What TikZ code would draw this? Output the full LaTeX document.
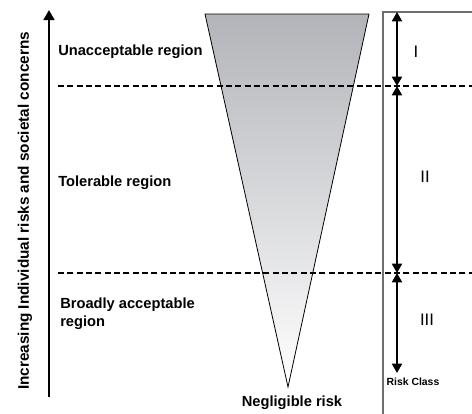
\documentclass[tikz,border=0pt]{standalone}
\usepackage{fontspec}
\setmainfont{Liberation Sans}
\usetikzlibrary{arrows.meta}
\usetikzlibrary{positioning}
\definecolor{conetop}{RGB}{178,180,185}
\definecolor{boxgray}{RGB}{110,110,110}
\tikzstyle{region} = [anchor=west, inner sep=0pt, align=left,
    font=\bfseries\fontsize{11}{13.5}\selectfont]
\tikzstyle{riskclass} = [inner sep=0pt, font=\fontsize{12.5}{14}\selectfont]
\tikzstyle{line} = [draw, line width=1.5pt, {Triangle[width=7.5pt,length=7pt]}-{Triangle[width=7.5pt,length=7pt]}]
\tikzstyle{border} = [dashed, line width=1.2pt, dash pattern=on 4.5pt off 2.5pt]

\begin{document}
\begin{tikzpicture}[x=0.75pt, y=-0.75pt]
    \useasboundingbox (0,0) rectangle (472,414);
    % Cone of risk
    \coordinate (tl) at (205,14);
    \coordinate (tr) at (369,14);
    \coordinate (apex) at (288,387);
    \shade[top color=conetop, bottom color=white] (tl) -- (tr) -- (apex) -- cycle;
    \draw[line width=0.6pt] (tl) -- (tr) -- (apex) -- cycle;
    % Risk class box
    \coordinate (boxtop) at (383,12);
    \draw[boxgray, line width=0.8pt] (383,414) -- (boxtop) -- (472,12);
    % Place nodes
    \node[region] (unacc) at (58,52) {Unacceptable region};
    \node[region] (toler) at (58,183) {Tolerable region};
    \node[region] (broad) at (60,314) {Broadly acceptable\\region};
    \node[inner sep=0pt, font=\bfseries\fontsize{11}{13}\selectfont] (neglig) at (292,403) {Negligible risk};
    \node[rotate=90, inner sep=0pt, font=\bfseries\fontsize{11.5}{13}\selectfont] (axis) at (25,211)
        {Increasing Individual risks and societal concerns};
    \node[riskclass] (one) at (416,52) {I};
    \node[riskclass] (two) at (425,177) {II};
    \node[riskclass] (three) at (427,320) {III};
    \node[inner sep=0pt, font=\bfseries\fontsize{7.8}{9}\selectfont] (rclass) at (413,382) {Risk Class};
    % Boundaries
    \coordinate (b1l) at (58,86);
    \coordinate (b1r) at (472,86);
    \coordinate (b2l) at (58,273);
    \coordinate (b2r) at (472,273);
    \draw[border] (b1l) -- (b1r);
    \draw[border] (b2l) -- (b2r);
    % Draw edges
    \coordinate (c0) at (397,12);
    \coordinate (c1) at (397,86);
    \coordinate (c2) at (397,273);
    \coordinate (c3) at (397,373);
    \path [line] (c0) -- (c1);
    \path [line] (c1) -- (c2);
    \path [line] (c2) -- (c3);
    \coordinate (low) at (49,397);
    \coordinate (high) at (49,10);
    \draw[line width=1.8pt, -{Triangle[width=8pt,length=7.5pt]}] (low) -- (high);
\end{tikzpicture}
\end{document}
